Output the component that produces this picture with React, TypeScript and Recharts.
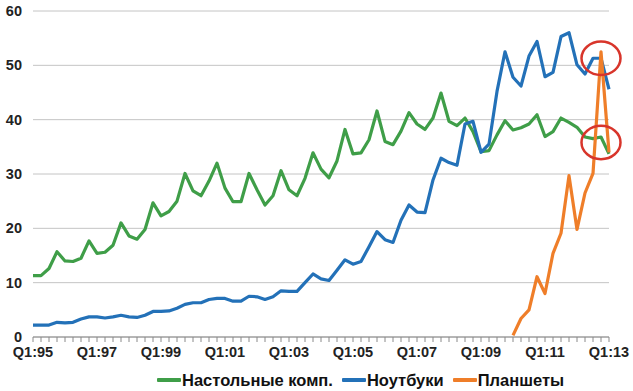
import {
	CartesianGrid,
	Legend,
	Line,
	LineChart,
	ReferenceDot,
	XAxis,
	YAxis,
} from "recharts";

// quarters Q1:95 .. Q1:13
const QUARTERS: string[] = [];
for (let y = 1995; y <= 2013; y++) {
	for (let q = 1; q <= 4; q++) {
		if (y === 2013 && q > 1) break;
		QUARTERS.push(`Q${q}:${String(y).slice(2)}`);
	}
}

const TICK_LABELS = [
	"Q1:95", "Q1:97", "Q1:99", "Q1:01", "Q1:03",
	"Q1:05", "Q1:07", "Q1:09", "Q1:11", "Q1:13",
];

const DESKTOPS = [
	11.3, 11.3, 12.6, 15.7, 14.0, 13.9, 14.5, 17.7, 15.4, 15.6, 16.9, 21.0,
	18.6, 18.0, 19.8, 24.7, 22.3, 23.1, 25.0, 30.1, 26.9, 26.0, 28.7, 32.0,
	27.4, 24.9, 24.9, 30.1, 27.1, 24.3, 26.0, 30.6, 27.1, 26.0, 29.2, 33.9,
	30.9, 29.3, 32.4, 38.2, 33.7, 33.9, 36.3, 41.6, 36.0, 35.4, 37.9, 41.3,
	39.2, 38.2, 40.3, 44.9, 39.7, 38.9, 40.3, 37.8, 34.1, 34.3, 37.2, 39.8,
	38.1, 38.5, 39.2, 40.9, 36.9, 37.8, 40.3, 39.5, 38.6, 36.8, 36.5, 36.8,
	33.7,
];

const NOTEBOOKS = [
	2.2, 2.2, 2.2, 2.7, 2.6, 2.7, 3.3, 3.7, 3.7, 3.5, 3.7, 4.0,
	3.7, 3.6, 4.0, 4.7, 4.7, 4.8, 5.3, 6.0, 6.3, 6.3, 6.9, 7.1,
	7.1, 6.6, 6.6, 7.5, 7.4, 6.9, 7.4, 8.5, 8.4, 8.4, 10.0, 11.6,
	10.7, 10.4, 12.3, 14.2, 13.4, 13.9, 16.6, 19.4, 17.9, 17.4, 21.5, 24.3,
	23.0, 22.9, 28.9, 32.9, 32.1, 31.6, 39.2, 39.7, 34.0, 35.5, 45.2, 52.5,
	47.8, 46.2, 51.7, 54.4, 47.9, 48.7, 55.3, 56.0, 50.1, 48.4, 51.3, 51.3,
	45.6,
];

// tablets start in Q1:10
const TABLETS_START = "Q1:10";
const TABLETS = [0.3, 3.4, 5.0, 11.1, 8.0, 15.4, 19.1, 29.7, 19.8, 26.5, 30.1, 52.5, 34.0];

const HIGHLIGHTS = [
	{ q: "Q4:12", value: 51.3 },
	{ q: "Q4:12", value: 35.8 },
];

const SERIES = [
	{ key: "desktops", name: "Настольные комп.", color: "#3f9e48" },
	{ key: "notebooks", name: "Ноутбуки", color: "#2371b8" },
	{ key: "tablets", name: "Планшеты", color: "#ef7e29" },
];

const tabletOffset = QUARTERS.indexOf(TABLETS_START);
const DATA = QUARTERS.map((q, i) => ({
	q,
	desktops: DESKTOPS[i],
	notebooks: NOTEBOOKS[i],
	tablets: i >= tabletOffset ? TABLETS[i - tabletOffset] : null,
}));

const FONT = '"Liberation Sans", Arial, Helvetica, sans-serif';

function LegendRow() {
	return (
		<div
			style={{
				display: "flex",
				paddingLeft: 157,
				paddingTop: 2,
				height: 22,
				alignItems: "center",
				fontFamily: FONT,
				fontWeight: 700,
				fontSize: 16.5,
				color: "#111",
			}}
		>
			{SERIES.map((s, i) => (
				<div
					key={s.key}
					style={{ display: "flex", alignItems: "center", marginRight: i < 2 ? 9 : 0 }}
				>
					<span
						style={{
							display: "inline-block",
							width: 24,
							height: 4,
							background: s.color,
							marginRight: 1,
							borderRadius: 1,
						}}
					/>
					<span>{s.name}</span>
				</div>
			))}
		</div>
	);
}

function Ellipse(props: any) {
	return (
		<ellipse
			cx={props.cx}
			cy={props.cy}
			rx={19.5}
			ry={16.7}
			fill="none"
			stroke="#d8352b"
			strokeWidth={2.5}
		/>
	);
}

export default function App() {
	return (
		<div style={{ position: "absolute", left: 0, top: 0, background: "#fff" }}>
			<LineChart
				width={633}
				height={391}
				data={DATA}
				margin={{ top: 11, right: 24, bottom: 0, left: 0 }}
			>
				<CartesianGrid vertical={false} stroke="#c4c4c4" strokeWidth={1} />
				<XAxis
					dataKey="q"
					interval={0}
					tickSize={5}
					tickMargin={5}
					height={30}
					axisLine={{ stroke: "#8a8a8a" }}
					tickLine={{ stroke: "#8a8a8a" }}
					tickFormatter={(v: string) => (TICK_LABELS.includes(v) ? v : "")}
					tick={{ fill: "#222", fontSize: 14.5, fontWeight: 700, fontFamily: FONT }}
				/>
				<YAxis
					domain={[0, 60]}
					ticks={[0, 10, 20, 30, 40, 50, 60]}
					width={33}
					axisLine={false}
					tickLine={false}
					tickMargin={5}
					tick={{ fill: "#222", fontSize: 14.5, fontWeight: 700, fontFamily: FONT }}
				/>
				<Legend verticalAlign="bottom" height={24} content={() => <LegendRow />} />
				{SERIES.map((s) => (
					<Line
						key={s.key}
						type="linear"
						dataKey={s.key}
						name={s.name}
						stroke={s.color}
						strokeWidth={3.2}
						strokeLinejoin="round"
						dot={false}
						activeDot={false}
						isAnimationActive={false}
					/>
				))}
				{HIGHLIGHTS.map((h, i) => (
					<ReferenceDot
						key={i}
						x={h.q}
						y={h.value}
						ifOverflow="visible"
						shape={Ellipse}
					/>
				))}
			</LineChart>
		</div>
	);
}
